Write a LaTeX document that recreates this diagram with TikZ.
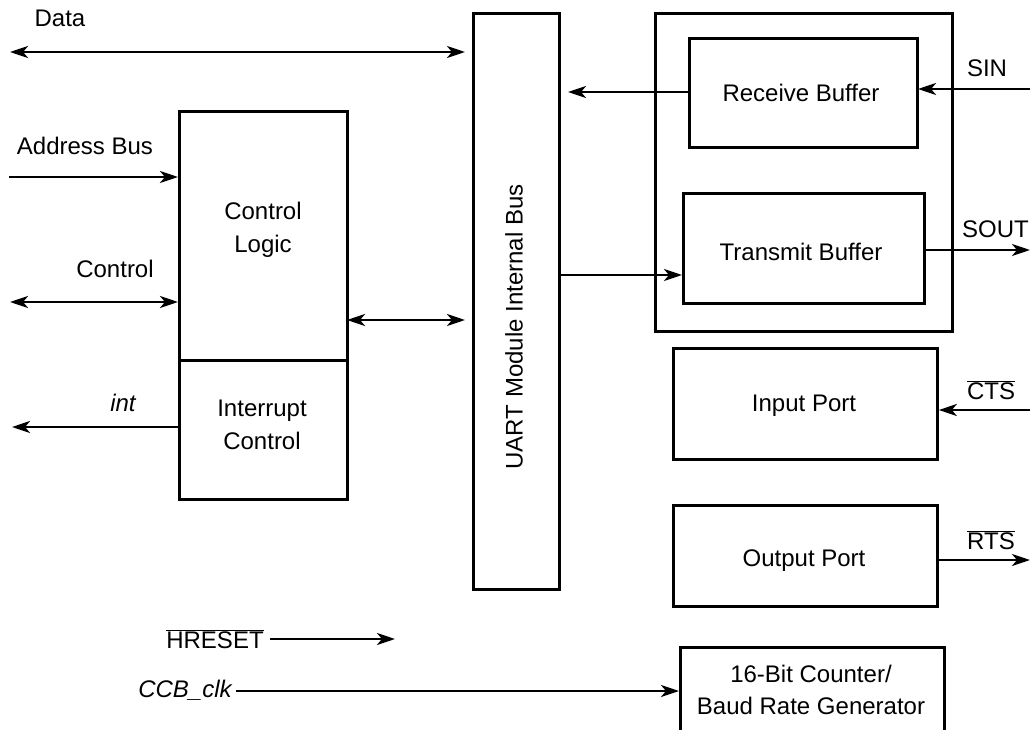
\documentclass[tikz,border=0pt]{standalone}
\usepackage{fontspec}
\setmainfont{Liberation Sans}
\usetikzlibrary{arrows.meta}
\newcommand\ovl[1]{$\overline{\hbox{#1}}$}
\begin{document}
\begin{tikzpicture}[x=1pt,y=-1pt,
  every node/.style={font=\fontsize{24}{32.7}\selectfont, align=center, inner sep=0pt},
  blk/.style={draw, line width=2.8pt, anchor=north west},
  wire/.style={line width=2.8pt},
  sig/.style={wire, -{Stealth[length=18pt,width=12pt,inset=5pt]}},
  bisig/.style={wire, {Stealth[length=18pt,width=12pt,inset=5pt]}-{Stealth[length=18pt,width=12pt,inset=5pt]}}]
\useasboundingbox (0,0) rectangle (1030,730);
\begin{scope}
\clip (0,0) rectangle (1030,730);
% blocks
\node[blk, minimum width=86pt, minimum height=576pt] (bus) at (472,12) {};
\node[rotate=90] (bustxt) at (514,327) {UART Module Internal Bus};
\node[blk, minimum width=168pt, minimum height=249pt] (cl) at (178,110) {};
\node (cltxt) at (263,230) {Control\\Logic};
\node[blk, minimum width=168pt, minimum height=139pt] (ic) at (178,359) {};
\node (ictxt) at (262,425) {Interrupt\\Control};
\node[blk, minimum width=297pt, minimum height=318pt] (outer) at (654,12) {};
\node[blk, minimum width=228pt, minimum height=109pt] (rb) at (688,37) {};
\node (rbtxt) at (801,93) {Receive Buffer};
\node[blk, minimum width=241pt, minimum height=110pt] (tb) at (682,192) {};
\node (tbtxt) at (801,252) {Transmit Buffer};
\node[blk, minimum width=264pt, minimum height=111pt] (ip) at (672,347) {};
\node (iptxt) at (804,406) {Input Port};
\node[blk, minimum width=264pt, minimum height=101pt] (op) at (672,504) {};
\node (optxt) at (804,561) {Output Port};
\node[blk, minimum width=264pt, minimum height=120pt] (brg) at (679,646) {};
\node (brgtxt) at (811,690) {16-Bit Counter/\\Baud Rate Generator};
% labels
\node (ldata) at (60,18) {Data};
\node (laddr) at (85,146) {Address Bus};
\node (lctrl) at (115,269) {Control};
\node (lint) at (123,403) {\itshape int};
\node (lsin) at (987,68) {SIN};
\node[anchor=east] (lsout) at (1029,229) {SOUT};
\node (lcts) at (991,390) {\ovl{CTS}};
\node (lrts) at (991,540) {\ovl{RTS}};
\node (lhr) at (215,639) {\ovl{HRESET}};
\node (lccb) at (185,690) {\itshape CCB\_clk};
% coordinates
\coordinate (d1) at (10,52);
\coordinate (d2) at (465,52);
\coordinate (a1) at (9,177);
\coordinate (c1) at (10,302);
\coordinate (i1) at (181,427);
\coordinate (i2) at (12,427);
\coordinate (cb1) at (347,320);
\coordinate (cb2) at (465,320);
\coordinate (r2) at (568,92);
\coordinate (t1) at (560,275);
\coordinate (s1) at (1030,89);
\coordinate (s2) at (918,89);
\coordinate (so1) at (925,250);
\coordinate (so) at (1030,250);
\coordinate (ct) at (1030,410);
\coordinate (rt) at (1030,560);
\coordinate (h1) at (270,639);
\coordinate (h2) at (395,639);
\coordinate (k1) at (236,691);
% connectors
\draw[bisig] (d1) -- (d2);
\draw[sig] (a1) -- (a1 -| cl.west);
\draw[bisig] (c1) -- (c1 -| cl.west);
\draw[sig] (i1) -- (i2);
\draw[bisig] (cb1) -- (cb2);
\draw[sig] (r2 -| rb.west) -- (r2);
\draw[sig] (t1) -- (t1 -| tb.west);
\draw[sig] (s1) -- (s2);
\draw[sig] (so1) -- (so);
\draw[sig] (ct) -- (ct -| ip.east);
\draw[sig] (rt -| op.east) -- (rt);
\draw[sig] (h1) -- (h2);
\draw[sig] (k1) -- (k1 -| brg.west);
\end{scope}
\end{tikzpicture}
\end{document}
